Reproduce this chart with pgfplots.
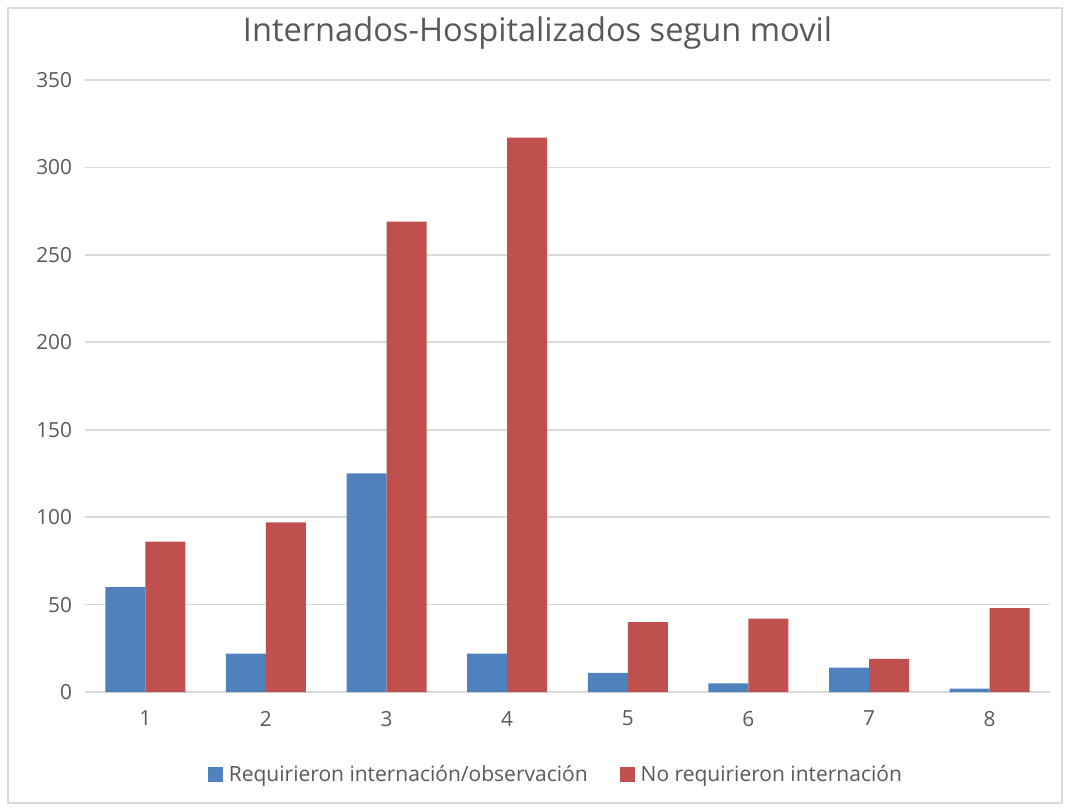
\documentclass[border=0pt]{standalone}
\usepackage{fontspec}
\setmainfont{Open Sans}
\usepackage{pgfplots}
\pgfplotsset{compat=1.18}
\definecolor{serieA}{HTML}{4F81BD}
\definecolor{serieB}{HTML}{C0504D}
\definecolor{gridc}{HTML}{D9D9D9}
\definecolor{txt}{HTML}{595959}
\begin{document}
\begin{tikzpicture}
% frame / page extent (1px = 0.5pt, origin at bottom-left of plot area)
\useasboundingbox (-42.5pt,-58.5pt) rectangle (490pt,346pt);
\draw[gridc, line width=0.6pt] (-38.5pt,-55.5pt) rectangle (488.5pt,342pt);
\begin{axis}[
    at={(0,0)}, anchor=origin,
    scale only axis,
    width=482.5pt, height=306pt,
    xmin=0.5, xmax=8.5, ymin=0, ymax=350,
    ybar, bar width=20pt,
    ytick={0,50,...,350},
    xtick={1,...,8},
    axis line style={draw=none},
    x axis line style={draw=gridc},
    major tick length=0pt,
    ymajorgrids, grid style={gridc, line width=0.8pt},
    tick label style={font=\fontsize{10.4pt}{12pt}\selectfont, text=txt},
    /pgf/number format/assume math mode=true,
    yticklabel style={xshift=-3pt},
    xticklabel style={yshift=-6pt},
    legend style={at={(rel axis cs:0.489,-0.1356)}, anchor=center, draw=none,
        font=\fontsize{10.5pt}{12pt}\selectfont, text=txt,
        legend columns=2, column sep=1pt,
        /tikz/every even column/.append style={column sep=14pt}},
    legend image code/.code={\fill[#1] (0pt,-3.75pt) rectangle (7.5pt,3.75pt);},
    clip=false,
]
\addplot[fill=serieA, draw=none, bar shift=-10pt] coordinates {
    (1,60)(2,22)(3,125)(4,22)(5,11)(6,5)(7,14)(8,2)
};
\addlegendentry{Requirieron internación/observación}
\addplot[fill=serieB, draw=none, bar shift=10pt] coordinates {
    (1,86)(2,97)(3,269)(4,317)(5,40)(6,42)(7,19)(8,48)
};
\addlegendentry{No requirieron internación}
\end{axis}
\node[text=txt, font=\fontsize{16.3pt}{19pt}\selectfont] at (226.25pt,329.5pt) {Internados-Hospitalizados segun movil};
\end{tikzpicture}
\end{document}
